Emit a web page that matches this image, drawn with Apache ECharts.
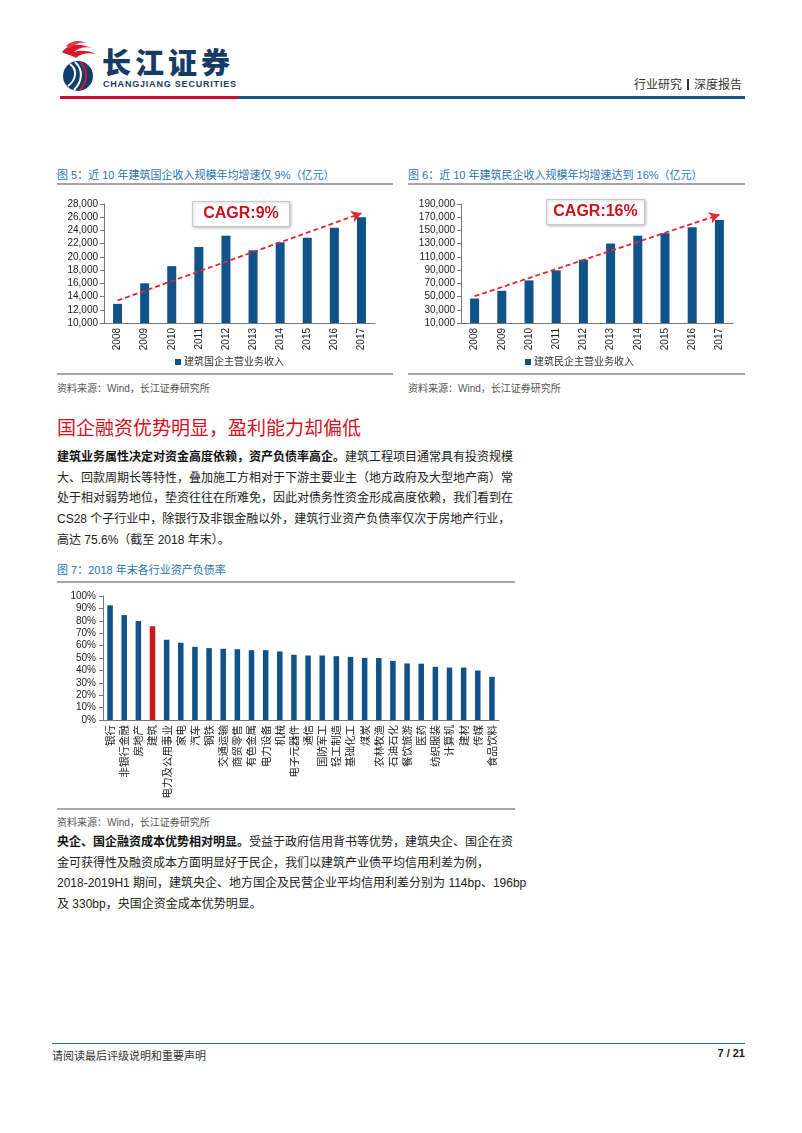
<!DOCTYPE html>
<html>
<head>
<meta charset="utf-8">
<script src="https://cdn.jsdelivr.net/npm/echarts@6/dist/echarts.min.js"></script>
<style>
  body { margin: 0; background: #fff; font-family: "Liberation Sans", "Noto Sans CJK SC", sans-serif; color: #222; }
  .page { position: relative; width: 802px; height: 1133px; overflow: hidden; }
  .abs { position: absolute; }
  .fig-title { font-size: 11px; color: #2b74b3; white-space: nowrap; }
  .rule { height: 0; border-top: 2px solid #a6a6a6; }
  .src { font-size: 10px; color: #555; white-space: nowrap; }
  .para div { white-space: nowrap; font-size: 12px; height: 20.7px; line-height: 20.7px; }
  .para b { font-weight: bold; color: #111; }
</style>
</head>
<body>
<div class="page">
  <!-- logo -->
  <svg class="abs" style="left:58px;top:40px" width="44" height="54" viewBox="0 0 44 54">
    <path d="M4 12 C12 2, 24 4, 34 8 C28 6, 20 8, 16 12 C22 10, 30 10, 38 14 C30 12, 22 14, 18 18 L14 16 C10 14, 6 14, 4 12 Z" fill="#d7192a"/>
    <path d="M8 6 C14 0, 22 0, 28 3 C22 2, 16 4, 12 8 Z" fill="#e8383f"/>
    <circle cx="20" cy="36" r="15" fill="#123f6e"/>
    <path d="M12 24 C20 30, 18 40, 10 46" stroke="#fff" stroke-width="2" fill="none"/>
    <path d="M17 22 C26 30, 24 42, 16 50" stroke="#fff" stroke-width="2" fill="none"/>
    <path d="M22 22 C31 30, 29 42, 22 50" stroke="#d7192a" stroke-width="2" fill="none"/>
  </svg>
  <div class="abs" style="left:102px;top:47px;line-height:29px;font-family:'Noto Sans CJK SC';font-weight:900;font-size:29px;letter-spacing:4px;color:#163b66;white-space:nowrap">长江证券</div>
  <div class="abs" style="left:103px;top:80px;line-height:9px;font-weight:bold;font-size:9px;letter-spacing:0.8px;color:#163b66;white-space:nowrap">CHANGJIANG SECURITIES</div>
  <div class="abs" style="left:634px;top:75px;font-size:12px;color:#333;white-space:nowrap">行业研究<span style="display:inline-block;width:2px;height:11px;background:#333;margin:0 5px;vertical-align:-1px"></span>深度报告</div>
  <div class="abs" style="left:60px;top:96px;width:178px;height:3px;background:#c8102e"></div>
  <div class="abs" style="left:238px;top:96px;width:507px;height:3px;background:#1c5686"></div>

  <!-- figure 5 / 6 -->
  <div class="abs fig-title" style="left:57px;top:166px">图 5：近 10 年建筑国企收入规模年均增速仅 9%（亿元）</div>
  <div class="abs rule" style="left:57px;top:183px;width:336px"></div>
  <div id="soeChart" class="abs" style="left:57px;top:186px;width:336px;height:186px"></div>
  <div class="abs rule" style="left:57px;top:373px;width:336px"></div>
  <div class="abs src" style="left:57px;top:380px">资料来源：Wind，长江证券研究所</div>

  <div class="abs fig-title" style="left:408px;top:166px">图 6：近 10 年建筑民企收入规模年均增速达到 16%（亿元）</div>
  <div class="abs rule" style="left:408px;top:183px;width:337px"></div>
  <div id="privChart" class="abs" style="left:408px;top:186px;width:337px;height:186px"></div>
  <div class="abs rule" style="left:408px;top:373px;width:337px"></div>
  <div class="abs src" style="left:408px;top:380px">资料来源：Wind，长江证券研究所</div>

  <!-- section -->
  <div class="abs" style="left:57px;top:413px;font-size:19px;color:#d2101f;white-space:nowrap">国企融资优势明显，盈利能力却偏低</div>
  <div class="abs para" style="left:57px;top:447px">
    <div><b>建筑业务属性决定对资金高度依赖，资产负债率高企。</b>建筑工程项目通常具有投资规模</div>
    <div>大、回款周期长等特性，叠加施工方相对于下游主要业主（地方政府及大型地产商）常</div>
    <div>处于相对弱势地位，垫资往往在所难免，因此对债务性资金形成高度依赖，我们看到在</div>
    <div>CS28 个子行业中，除银行及非银金融以外，建筑行业资产负债率仅次于房地产行业，</div>
    <div>高达 75.6%（截至 2018 年末）。</div>
  </div>

  <div class="abs fig-title" style="left:57px;top:561px">图 7：2018 年末各行业资产负债率</div>
  <div class="abs rule" style="left:57px;top:581px;width:458px"></div>
  <div id="debtChart" class="abs" style="left:57px;top:583px;width:458px;height:225px"></div>
  <div class="abs rule" style="left:57px;top:808px;width:458px"></div>
  <div class="abs src" style="left:57px;top:814px">资料来源：Wind，长江证券研究所</div>

  <div class="abs para" style="left:57px;top:832px">
    <div><b>央企、国企融资成本优势相对明显。</b>受益于政府信用背书等优势，建筑央企、国企在资</div>
    <div>金可获得性及融资成本方面明显好于民企，我们以建筑产业债平均信用利差为例，</div>
    <div>2018-2019H1 期间，建筑央企、地方国企及民营企业平均信用利差分别为 114bp、196bp</div>
    <div>及 330bp，央国企资金成本优势明显。</div>
  </div>

  <!-- footer -->
  <div class="abs" style="left:52px;top:1043px;width:693px;height:1px;background:#2d6f98"></div>
  <div class="abs" style="left:52px;top:1047px;font-size:11px;color:#333;white-space:nowrap">请阅读最后评级说明和重要声明</div>
  <div class="abs" style="left:700px;top:1047px;width:45px;text-align:right;font-size:11px;font-weight:bold;color:#222;white-space:nowrap">7 / 21</div>
</div>

<script>
// 年份
var years = ['2008', '2009', '2010', '2011', '2012', '2013', '2014', '2015', '2016', '2017'];
// 建筑国企主营业务收入（亿元）
var soeRevenue = [12900, 16000, 18600, 21500, 23200, 21000, 22200, 22900, 24400, 26000];
// 建筑民企主营业务收入（亿元）
var privRevenue = [47000, 58700, 74400, 89600, 105800, 130200, 141800, 145900, 155000, 165700];
// 趋势箭头起止值
var soeTrend = [13400, 26600];
var privTrend = [50600, 173800];
var soeCagr = 'CAGR:9%';
var privCagr = 'CAGR:16%';

// 2018 年末各行业资产负债率（%）
var industries = ['银行', '非银行金融', '房地产', '建筑', '电力及公用事业', '家电', '汽车', '钢铁', '交通运输',
  '商贸零售', '有色金属', '电力设备', '机械', '电子元器件', '通信', '国防军工', '轻工制造', '基础化工', '煤炭',
  '农林牧渔', '石油石化', '餐饮旅游', '医药', '纺织服装', '计算机', '建材', '传媒', '食品饮料'];
var debtRatio = [92.5, 84.6, 79.8, 75.6, 64.7, 62.3, 59.0, 58.0, 57.4, 57.1, 56.3, 56.3, 55.3, 52.6, 52.0, 52.0,
  51.5, 50.9, 50.1, 50.0, 47.7, 45.6, 45.4, 42.9, 42.3, 42.3, 39.9, 34.8];
var highlightIndustry = '建筑';

var BLUE = '#10528a';
var RED = '#c8161d';
var AXIS = '#777';
var FONT = '"Liberation Sans", "Noto Sans CJK SC", sans-serif';

function revenueChart(domId, values, trend, cagr, legendName, yMin, yMax, yStep, grid, legendLeft, box) {
  var chart = echarts.init(document.getElementById(domId), null, { renderer: 'canvas' });
  var option = {
    animation: false,
    textStyle: { fontFamily: FONT },
    grid: grid,
    legend: {
      left: legendLeft, top: 166, itemWidth: 6, itemHeight: 6, icon: 'rect', itemGap: 4,
      textStyle: { fontSize: 10, color: '#333', padding: [0, 0, 0, -2] },
      data: [legendName]
    },
    xAxis: {
      type: 'category',
      data: years,
      axisLine: { lineStyle: { color: AXIS } },
      axisTick: { length: 4, lineStyle: { color: AXIS } },
      axisLabel: { rotate: 90, fontSize: 10, color: '#222', margin: 5 }
    },
    yAxis: {
      type: 'value', min: yMin, max: yMax, interval: yStep,
      splitLine: { show: false },
      axisLine: { show: true, lineStyle: { color: AXIS } },
      axisTick: { show: true, length: 4, lineStyle: { color: AXIS } },
      axisLabel: {
        fontSize: 10, color: '#222', margin: 6,
        formatter: function (v) { return v.toLocaleString('en-US'); }
      }
    },
    graphic: [{
      type: 'group', left: box[0], top: box[1],
      children: [
        { type: 'rect', shape: { x: 0, y: 0, width: box[2], height: 25 },
          style: { fill: '#fff', stroke: '#c8c8c8', lineWidth: 1, shadowBlur: 3, shadowColor: 'rgba(0,0,0,0.25)', shadowOffsetX: 1, shadowOffsetY: 1 } },
        { type: 'text', x: box[2] / 2, y: 12.5,
          style: { text: cagr, fill: '#d0101c', font: 'bold 16px "Liberation Sans", sans-serif', align: 'center', verticalAlign: 'middle' } }
      ]
    }],
    series: [{
      name: legendName,
      type: 'bar',
      barWidth: 9,
      data: values,
      itemStyle: { color: BLUE },
      markLine: {
        silent: true,
        symbol: ['none', 'arrow'],
        symbolSize: [9, 10],
        label: { show: false },
        lineStyle: { color: '#e5262d', type: [5, 3], width: 1.8 },
        data: [[{ coord: [years[0], trend[0]] }, { coord: [years[years.length - 1], trend[1]] }]]
      }
    }]
  };
  chart.setOption(option);
  return chart;
}

var c1 = revenueChart('soeChart', soeRevenue, soeTrend, soeCagr, '建筑国企主营业务收入',
  10000, 28000, 2000, { left: 47, right: 18, top: 18, bottom: 49 }, 113, [135, 15, 97]);
var c2 = revenueChart('privChart', privRevenue, privTrend, privCagr, '建筑民企主营业务收入',
  10000, 190000, 20000, { left: 53, right: 12, top: 18, bottom: 49 }, 112, [138, 13, 98]);

var debtChart = echarts.init(document.getElementById('debtChart'));
debtChart.setOption({
  animation: false,
  textStyle: { fontFamily: FONT },
  grid: { left: 46, right: 16, top: 13, bottom: 88 },
  xAxis: {
    type: 'category',
    data: industries,
    axisLine: { lineStyle: { color: AXIS } },
    axisTick: { length: 4, lineStyle: { color: AXIS } },
    axisLabel: { rotate: 90, interval: 0, fontSize: 10.5, color: '#222', margin: 5, fontFamily: '"Noto Sans CJK SC", sans-serif' }
  },
  yAxis: {
    type: 'value', min: 0, max: 100, interval: 10,
    splitLine: { show: false },
    axisLine: { show: true, lineStyle: { color: AXIS } },
    axisTick: { show: true, length: 4, lineStyle: { color: AXIS } },
    axisLabel: { fontSize: 10, color: '#222', margin: 7, formatter: '{value}%' }
  },
  series: [{
    type: 'bar',
    barWidth: 5.5,
    data: debtRatio.map(function (v, i) {
      return { value: v, itemStyle: { color: industries[i] === highlightIndustry ? RED : BLUE } };
    })
  }]
});

window.addEventListener('resize', function () {
  c1.resize(); c2.resize(); debtChart.resize();
});
</script>
</body>
</html>
